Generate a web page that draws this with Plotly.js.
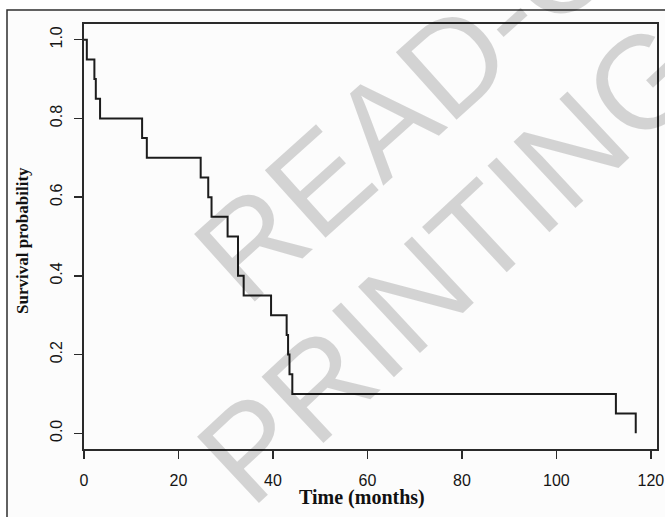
<!DOCTYPE html>
<html>
<head>
<meta charset="utf-8">
<script src="https://cdn.plot.ly/plotly-3.0.1.min.js"></script>
<style>
  html, body { margin: 0; padding: 0; background: #ffffff; }
  #chart { width: 665px; height: 517px; }
</style>
</head>
<body>
<div id="chart"></div>
<script>
// Kaplan-Meier estimate: event times (months) and survival after each step
const timeMonths = [0, 0.6, 2.2, 2.5, 3.4, 12.3, 13.3, 24.7, 26.3, 27.0, 30.4, 32.6, 33.8, 39.6, 42.9, 43.2, 43.5, 44.1, 112.6, 116.8];
const survival   = [1.0, 0.95, 0.90, 0.85, 0.80, 0.75, 0.70, 0.65, 0.60, 0.55, 0.50, 0.40, 0.35, 0.30, 0.25, 0.20, 0.15, 0.10, 0.05, 0.00];

const xTicks = [0, 20, 40, 60, 80, 100, 120];
const yTicks = [0, 0.2, 0.4, 0.6, 0.8, 1.0];
const yTickText = ['0.0', '0.2', '0.4', '0.6', '0.8', '1.0'];

const xTitle = 'Time (months)';
const yTitle = 'Survival probability';
const stampLines = ['READ-ONLY', 'PRINTING'];

// plot-area geometry in pixels
const W = 665, H = 517;
const L = 84, R = 657, T = 24, B = 449;
const px = x => (x - L) / (R - L);
const py = y => (B - y) / (B - T);

const serif = 'Liberation Serif, Times New Roman, serif';
const sans = 'Liberation Sans, Arial, sans-serif';

const trace = {
  x: timeMonths,
  y: survival,
  type: 'scatter',
  mode: 'lines',
  line: { shape: 'hv', color: '#1c1c1c', width: 2 },
  hoverinfo: 'skip',
  showlegend: false
};

const axisCommon = {
  showgrid: false,
  zeroline: false,
  showline: true,
  mirror: true,
  linecolor: '#2a2a2a',
  linewidth: 2,
  ticks: 'outside',
  ticklen: 8,
  tickwidth: 1.5,
  tickcolor: '#2a2a2a',
  tickfont: { family: sans, size: 16, color: '#151515' }
};

const layout = {
  width: W,
  height: H,
  margin: { l: L, r: W - R, t: T, b: H - B, pad: 0 },
  paper_bgcolor: '#ffffff',
  plot_bgcolor: 'rgba(0,0,0,0)',
  xaxis: Object.assign({}, axisCommon, {
    range: [0, 121.3],
    tickvals: xTicks,
    ticklabelstandoff: 8
  }),
  yaxis: Object.assign({}, axisCommon, {
    range: [-0.04, 1.04],
    tickvals: yTicks,
    ticktext: yTickText,
    tickangle: -90,
    ticklabelstandoff: 6
  }),
  shapes: [
    // outer figure frame
    {
      type: 'rect', xref: 'paper', yref: 'paper', layer: 'below',
      x0: px(7), x1: px(W + 20), y0: py(H + 20), y1: py(10),
      line: { color: '#2e2e2e', width: 1.5 },
      fillcolor: '#fcfcfc'
    }
  ],
  annotations: [
    {
      text: xTitle, xref: 'paper', yref: 'paper',
      x: px(362), y: py(497), xanchor: 'center', yanchor: 'middle',
      showarrow: false,
      font: { family: serif, size: 20, color: '#111', weight: 'bold' }
    },
    {
      text: yTitle, xref: 'paper', yref: 'paper',
      x: px(23), y: py(241), xanchor: 'center', yanchor: 'middle',
      textangle: -90, showarrow: false,
      font: { family: serif, size: 17, color: '#111', weight: 'bold' }
    },
    {
      text: stampLines[0], xref: 'paper', yref: 'paper',
      x: px(499), y: py(21), xanchor: 'center', yanchor: 'middle',
      textangle: -42, showarrow: false,
      font: { family: sans, size: 132, color: 'rgba(0,0,0,0.16)' }
    },
    {
      text: stampLines[1], xref: 'paper', yref: 'paper',
      x: px(450), y: py(262), xanchor: 'center', yanchor: 'middle',
      textangle: -43, showarrow: false,
      font: { family: sans, size: 132, color: 'rgba(0,0,0,0.16)' }
    }
  ]
};

Plotly.newPlot('chart', [trace], layout, { staticPlot: true, displayModeBar: false });
</script>
</body>
</html>
